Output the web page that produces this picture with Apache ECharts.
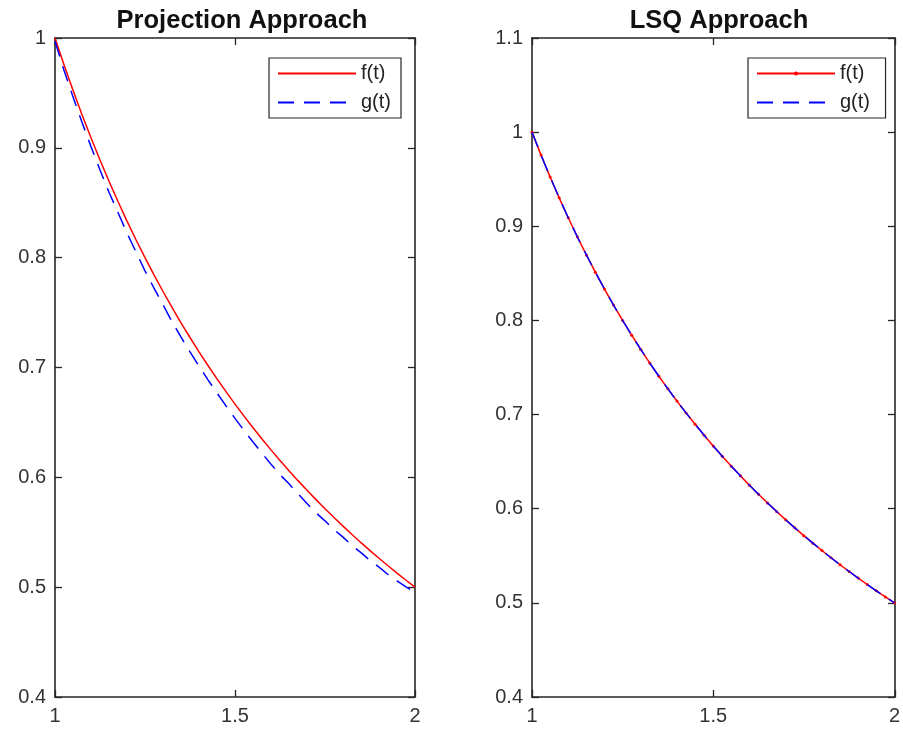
<!DOCTYPE html>
<html><head><meta charset="utf-8">
<script src="https://cdn.jsdelivr.net/npm/echarts@6/dist/echarts.min.js"></script>
<style>html,body{margin:0;padding:0;background:#fff}#c{width:903px;height:735px}</style>
</head><body><div id="c"></div>
<script>
var t = [1.000,1.025,1.050,1.075,1.100,1.125,1.150,1.175,1.200,1.225,1.250,1.275,1.300,1.325,1.350,1.375,1.400,1.425,1.450,1.475,1.500,1.525,1.550,1.575,1.600,1.625,1.650,1.675,1.700,1.725,1.750,1.775,1.800,1.825,1.850,1.875,1.900,1.925,1.950,1.975,2.000];
var fVals = [1.0000,0.9756,0.9524,0.9302,0.9091,0.8889,0.8696,0.8511,0.8333,0.8163,0.8000,0.7843,0.7692,0.7547,0.7407,0.7273,0.7143,0.7018,0.6897,0.6780,0.6667,0.6557,0.6452,0.6349,0.6250,0.6154,0.6061,0.5970,0.5882,0.5797,0.5714,0.5634,0.5556,0.5479,0.5405,0.5333,0.5263,0.5195,0.5128,0.5063,0.5000];
var gProj = [0.9970,0.9706,0.9464,0.9232,0.9011,0.8799,0.8596,0.8411,0.8223,0.8053,0.7880,0.7723,0.7572,0.7417,0.7277,0.7143,0.7013,0.6888,0.6767,0.6650,0.6537,0.6427,0.6322,0.6219,0.6120,0.6024,0.5941,0.5850,0.5762,0.5677,0.5604,0.5524,0.5456,0.5379,0.5315,0.5243,0.5183,0.5115,0.5058,0.5003,0.4950];
var gLsq = [1.0000,0.9756,0.9524,0.9302,0.9091,0.8889,0.8696,0.8511,0.8333,0.8163,0.8000,0.7843,0.7692,0.7547,0.7407,0.7273,0.7143,0.7018,0.6897,0.6780,0.6667,0.6557,0.6452,0.6349,0.6250,0.6154,0.6061,0.5970,0.5882,0.5797,0.5714,0.5634,0.5556,0.5479,0.5405,0.5333,0.5263,0.5195,0.5128,0.5063,0.5000];
var titles = ['Projection Approach','LSQ Approach'];
var leftYTicks = {min:0.4, max:1.0, interval:0.1};
var rightYTicks = {min:0.4, max:1.1, interval:0.1};
var xTicks = {min:1, max:2, interval:0.5};

function pairs(x,y){return x.map(function(v,i){return [v,y[i]];});}
var FONT = 'Liberation Sans';
var axCol = '#262626';
function axBase(kind, gi, pos, tk, labels){
  return {type:'value', gridIndex:gi, position:pos, min:tk.min, max:tk.max, interval:tk.interval,
    axisLine:{show:!labels,onZero:false,lineStyle:{color:axCol,width:1.6}},
    axisTick:{show:!labels,inside:true,length:7,lineStyle:{color:axCol,width:1.3}},
    axisLabel:{show:labels,color:'#333',fontFamily:FONT,fontSize:20,margin:9,
      formatter:function(v){return String(Math.round(v*10)/10);}},
    splitLine:{show:false}};
}
var g0 = {left:55, right:488, top:38, bottom:38};
var g1 = {left:532, right:8, top:38, bottom:38};
var legendCommon = {orient:'vertical', itemWidth:78, itemHeight:5, itemGap:8, padding:[5,10,5,8],
  borderColor:axCol, borderWidth:1.2, backgroundColor:'#fff', selectedMode:false,
  textStyle:{fontFamily:FONT,fontSize:20,lineHeight:21,color:'#222'}};
var chart = echarts.init(document.getElementById('c'), null, {renderer:'canvas'});
chart.setOption({
  animation:false,
  backgroundColor:'#fff',
  title:[
    {text:titles[0], left:237, top:3, textAlign:'center', textStyle:{fontFamily:FONT,fontSize:25.5,fontWeight:'bold',color:'#111'}},
    {text:titles[1], left:714, top:3, textAlign:'center', textStyle:{fontFamily:FONT,fontSize:25.5,fontWeight:'bold',color:'#111'}}
  ],
  grid:[g0, g1, g0, g1],
  xAxis:[
    axBase('x',0,'bottom',xTicks,true), axBase('x',1,'bottom',xTicks,true),
    axBase('x',2,'bottom',xTicks,false), axBase('x',2,'top',xTicks,false),
    axBase('x',3,'bottom',xTicks,false), axBase('x',3,'top',xTicks,false)
  ],
  yAxis:[
    axBase('y',0,'left',leftYTicks,true), axBase('y',1,'left',rightYTicks,true),
    axBase('y',2,'left',leftYTicks,false), axBase('y',2,'right',leftYTicks,false),
    axBase('y',3,'left',rightYTicks,false), axBase('y',3,'right',rightYTicks,false)
  ],
  legend:[
    Object.assign({left:269, top:58, data:[{name:'f(t)', itemStyle:{opacity:0}},{name:'g(t)', itemStyle:{opacity:0}}]}, legendCommon),
    Object.assign({left:748, top:58, data:[{name:'f(t) '},{name:'g(t) ', itemStyle:{opacity:0}}]}, legendCommon)
  ],
  series:[
    {name:'f(t)', type:'line', xAxisIndex:0, yAxisIndex:0, data:pairs(t,fVals), showSymbol:false, symbol:'none',
     lineStyle:{color:'#ff0000',width:1.5}, itemStyle:{color:'#ff0000'}, z:3},
    {name:'g(t)', type:'line', xAxisIndex:0, yAxisIndex:0, data:pairs(t,gProj), showSymbol:false, symbol:'none',
     lineStyle:{color:'#0000ff',width:1.5,type:[16,10]}, itemStyle:{color:'#0000ff'}, z:4},
    {name:'f(t) ', type:'line', xAxisIndex:1, yAxisIndex:1, data:pairs(t,fVals), symbol:'circle', symbolSize:3, showSymbol:true,
     lineStyle:{color:'#ff0000',width:1.5}, itemStyle:{color:'#ff0000'}, z:3},
    {name:'g(t) ', type:'line', xAxisIndex:1, yAxisIndex:1, data:pairs(t,gLsq), showSymbol:false, symbol:'none',
     lineStyle:{color:'#0000ff',width:1.5,type:[16,10]}, itemStyle:{color:'#0000ff'}, z:4}
  ]
});
</script></body></html>
